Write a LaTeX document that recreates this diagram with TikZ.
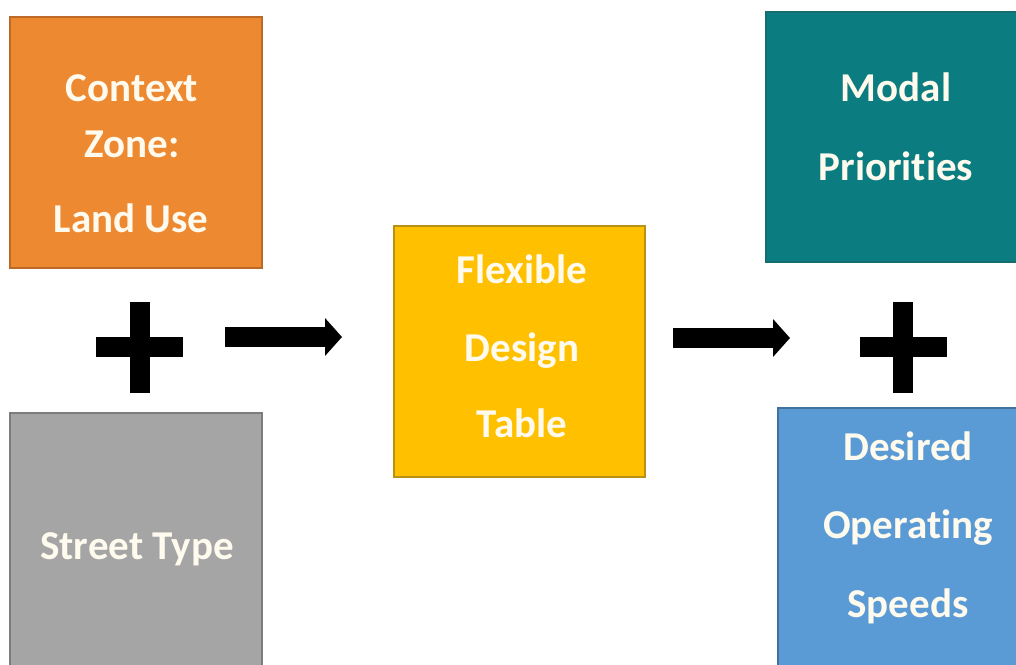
\documentclass[tikz,border=0pt]{standalone}
\usepackage{fontspec}
\setmainfont{Carlito}[RawFeature=-liga]
\usetikzlibrary{arrows.meta}
\definecolor{orangebox}{RGB}{237,137,49}
\definecolor{orangeedge}{RGB}{190,105,40}
\definecolor{graybox}{RGB}{165,165,165}
\definecolor{grayedge}{RGB}{125,125,125}
\definecolor{yellowbox}{RGB}{255,192,0}
\definecolor{yellowedge}{RGB}{185,145,20}
\definecolor{tealbox}{RGB}{11,125,128}
\definecolor{tealedge}{RGB}{20,110,112}
\definecolor{bluebox}{RGB}{91,155,213}
\definecolor{blueedge}{RGB}{65,113,156}
\definecolor{labeltext}{RGB}{255,250,238}
\tikzset{
  box/.style={draw=#1edge, fill=#1box, line width=1.2pt},
  lbl/.style={anchor=base, text=labeltext, inner sep=0pt,
    font=\fontsize{41}{49}\selectfont\bfseries},
  bigarrow/.style={line width=20pt, -{Triangle[width=37pt,length=17pt]}},
  plusbar/.style={line width=20pt, line cap=butt}
}
\begin{document}
\begin{tikzpicture}[x=1pt,y=-1pt]
\useasboundingbox (0,0) rectangle (1016,664);
\fill[white] (0,0) rectangle (1016,664);
% boxes
\draw[box=orange] (10,17) rectangle (262,268);
\node[lbl] (t1) at (132,101) {Context};
\node[lbl] (t2) at (132,157) {Zone:};
\node[lbl] (t3) at (131,232) {Land Use};
\draw[box=gray] (10,413) rectangle (262,666);
\node[lbl] (t4) at (137,559) {Street Type};
\draw[box=yellow] (394,226) rectangle (645,477);
\node[lbl] (t5) at (522,283) {Flexible};
\node[lbl] (t6) at (522,361) {Design};
\node[lbl] (t7) at (522,437) {Table};
\draw[box=teal] (766,12) rectangle (1018,262);
\node[lbl] (t8) at (896,101) {Modal};
\node[lbl] (t9) at (896,180) {Priorities};
\draw[box=blue] (778,408) rectangle (1018,666);
\node[lbl] (t10) at (908,460) {Desired};
\node[lbl] (t11) at (908,538) {Operating};
\node[lbl] (t12) at (908,617) {Speeds};
% plus signs
\coordinate (p1t) at (140,302); \coordinate (p1b) at (140,393);
\coordinate (p1l) at (96,347);  \coordinate (p1r) at (183,347);
\draw[plusbar] (p1t) -- (p1b);
\draw[plusbar] (p1l) -- (p1r);
\coordinate (p2t) at (903,302); \coordinate (p2b) at (903,393);
\coordinate (p2l) at (860,347); \coordinate (p2r) at (947,347);
\draw[plusbar] (p2t) -- (p2b);
\draw[plusbar] (p2l) -- (p2r);
% arrows
\coordinate (a1s) at (225,337); \coordinate (a1e) at (342,337);
\draw[bigarrow] (a1s) -- (a1e);
\coordinate (a2s) at (673,338); \coordinate (a2e) at (790,338);
\draw[bigarrow] (a2s) -- (a2e);
\end{tikzpicture}
\end{document}
